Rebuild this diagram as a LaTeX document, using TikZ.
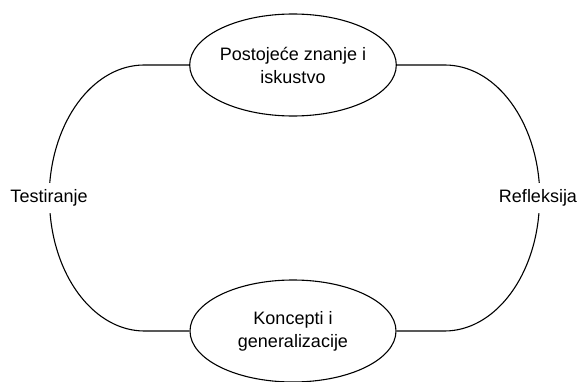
\documentclass[tikz,border=0pt]{standalone}
\usepackage{fontspec}
\setmainfont{Liberation Sans}
\usepackage{tikz}
\usetikzlibrary{positioning, shapes.geometric}

\begin{document}
\begin{tikzpicture}[x=1pt, y=1pt,
                    every node/.style={font=\fontsize{18}{23}\selectfont},
                    bubble/.style={draw, ellipse, line width=1.1pt,
                                   minimum width=206pt, minimum height=102pt,
                                   inner sep=0pt, align=center},
                    loop/.style={line width=1.1pt}]
  \useasboundingbox (0,0) rectangle (578,381);
  \node[bubble] (known) at (293,316) {Postoje\'ce znanje i\\iskustvo};
  \node[bubble] (concepts) at (293,50) {Koncepti i\\generalizacije};
  \node (testing) at (49,183) {Testiranje};
  \node (reflection) at (538,183) {Refleksija};
  % left half of the cycle
  \draw[loop] (known.west) -- ++(-45,0)
    arc[start angle=90, end angle=173.5, x radius=95, y radius=133];
  \draw[loop] (concepts.west) -- ++(-45,0)
    arc[start angle=270, end angle=186.5, x radius=95, y radius=133];
  % right half of the cycle
  \draw[loop] (known.east) -- ++(48,0)
    arc[start angle=90, end angle=6.5, x radius=95, y radius=133];
  \draw[loop] (concepts.east) -- ++(48,0)
    arc[start angle=270, end angle=353.5, x radius=95, y radius=133];
\end{tikzpicture}
\end{document}
